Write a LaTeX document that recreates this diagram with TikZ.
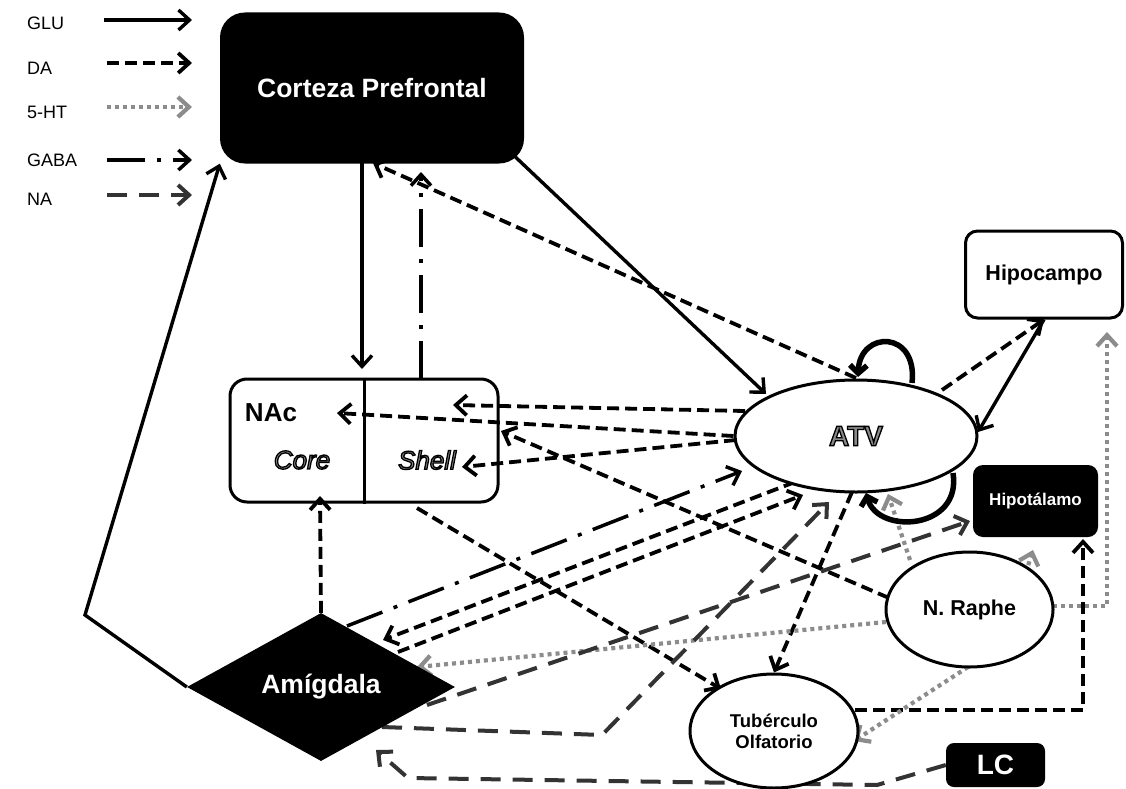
\documentclass[tikz,border=0pt]{standalone}
\usepackage{fontspec}
\setmainfont{Liberation Sans}
\usetikzlibrary{arrows.meta,shapes.geometric,calc}
\pgfdeclarelayer{bg}
\pgfsetlayers{bg,main}
\definecolor{sert}{HTML}{8C8C8C}
\definecolor{nacol}{HTML}{333333}
\definecolor{outlfill}{HTML}{8A8A8A}
\newcommand\outl[1]{\textcolor{outlfill}{\special{pdf:literal direct 2 Tr 0 G 1.3 w}#1\special{pdf:literal direct 0 Tr}}}
\tikzset{
  barb/.tip={Straight Barb[length=11pt,width=20pt]},
  glu/.style={line width=3.4pt,black,-barb},
  da/.style={line width=3.8pt,black,dash pattern=on 12pt off 6pt,-barb},
  ht/.style={line width=4.2pt,sert,dash pattern=on 4pt off 4pt,-barb},
  gaba/.style={line width=3.5pt,black,dash pattern=on 38pt off 12pt on 4pt off 12pt,-barb},
  na/.style={line width=4pt,nacol,dash pattern=on 20pt off 12pt,-barb},
  loopar/.style={line width=5.5pt,black,-{Straight Barb[length=8pt,width=17pt]}},
  legtxt/.style={anchor=west,inner sep=0pt,font=\fontsize{18}{21}\selectfont},
  blackbox/.style={fill=black,text=white,inner sep=0pt,font=\bfseries},
  whiteell/.style={ellipse,draw,line width=3pt,fill=white,inner sep=0pt,font=\bfseries},
}
\begin{document}
\begin{tikzpicture}[x=1pt,y=-1pt]
\useasboundingbox (0,0) rectangle (1126,789);
% ---------- nodes ----------
\node[blackbox,rounded corners=25pt,minimum width=304pt,minimum height=151pt,
  font=\fontsize{26.5}{30}\selectfont\bfseries] (cpf) at (372,88) {Corteza Prefrontal};
\node[draw,line width=3pt,rounded corners=17pt,minimum width=268pt,minimum height=123pt] (nac) at (364,440.5) {};
\node[inner sep=0pt,font=\fontsize{26}{28}\selectfont\bfseries] (nactxt) at (271,413) {NAc};
\node[inner sep=0pt,font=\fontsize{26}{28}\selectfont\itshape] (core) at (302,460) {\outl{Core}};
\node[inner sep=0pt,font=\fontsize{26}{28}\selectfont\itshape] (shell) at (427,460) {\outl{Shell}};
\node[whiteell,minimum width=242pt,minimum height=112pt,font=\fontsize{28}{30}\selectfont\bfseries] (atv) at (856,436) {\outl{ATV}};
\node[draw,line width=3pt,fill=white,rounded corners=12pt,minimum width=157pt,minimum height=87pt,
  font=\fontsize{21.5}{24}\selectfont\bfseries] (hip) at (1044,274.5) {Hipocampo};
\node[blackbox,rounded corners=10pt,minimum width=125pt,minimum height=72pt,
  font=\fontsize{17}{20}\selectfont\bfseries] (hyp) at (1035.5,501) {Hipotálamo};
\node[whiteell,minimum width=167pt,minimum height=115pt,font=\fontsize{21.5}{24}\selectfont\bfseries] (raphe) at (969.5,609.5) {N. Raphe};
\node[whiteell,minimum width=168pt,minimum height=114pt,align=center,font=\fontsize{18.5}{21}\selectfont\bfseries] (tub) at (774,731) {Tubérculo\\Olfatorio};
\node[blackbox,rounded corners=8pt,minimum width=99pt,minimum height=44pt,
  font=\fontsize{28}{30}\selectfont\bfseries] (lc) at (995.5,765) {LC};
\node[diamond,aspect=1.8,fill=black,text=white,inner sep=0pt,minimum width=268pt,minimum height=148pt,
  font=\fontsize{26.5}{30}\selectfont\bfseries] (amy) at (321,687) {Amígdala};
\draw[line width=3pt] (nac.north) -- (nac.south);
% legend
\node[legtxt] (lglu) at (27,23) {GLU};
\node[legtxt] (lda) at (27,68) {DA};
\node[legtxt] (lht) at (27,112) {5-HT};
\node[legtxt] (lgaba) at (27,160) {GABA};
\node[legtxt] (lna) at (27,199) {NA};
% ---------- coordinates ----------
\coordinate (g1a) at (104,20);  \coordinate (g1b) at (192,20);
\coordinate (g2a) at (107,63);  \coordinate (g2b) at (192,63);
\coordinate (g3a) at (107,107); \coordinate (g3b) at (192,107);
\coordinate (g4a) at (107,160); \coordinate (g4b) at (192,160);
\coordinate (g5a) at (107,195); \coordinate (g5b) at (192,195);
\coordinate (bendA) at (85,615);
\coordinate (cpfD) at (362,163); \coordinate (nacT) at (362,369);
\coordinate (nacS) at (421,379); \coordinate (cpfG) at (421,172);
\coordinate (cpfR) at (508,150); \coordinate (atvGL) at (766,394);
\coordinate (atvT) at (856,378); \coordinate (cpfA) at (373,163);
\coordinate (atvL1) at (912,383); \coordinate (atvL2) at (858,377);
\coordinate (atvH) at (942,390);
\coordinate (atvR) at (978,432);
\coordinate (atvU) at (745,411); \coordinate (shellU) at (453,405);
\coordinate (coreA) at (337,413);
\coordinate (atvW2) at (736,440); \coordinate (shellL) at (462,467);
\coordinate (rapheN) at (889,598); \coordinate (nacR) at (501,431);
\coordinate (nacB) at (417,508); \coordinate (tubA) at (721,689);
\coordinate (atvB) at (852,492);
\coordinate (atvA1) at (795,482); \coordinate (amyA1) at (383,640);
\coordinate (amyA2) at (398,652); \coordinate (atvA2) at (803,495);
\coordinate (nacC) at (320,496);
\coordinate (tubR) at (855,710); \coordinate (cornerTH) at (1083,710); \coordinate (hypB) at (1083,539);
\coordinate (amyG) at (347,626); \coordinate (atvG) at (742,471);
\coordinate (rapheW) at (886,622); \coordinate (amyH) at (417,667);
\coordinate (rapheT) at (910,560); \coordinate (atvH2) at (888,494);
\coordinate (rapheNE) at (1021,588); \coordinate (hypH) at (1033,550);
\coordinate (rapheE) at (1053,606); \coordinate (cornerRH) at (1107,606); \coordinate (hipH) at (1107,332);
\coordinate (rapheS) at (968,667); \coordinate (tubH) at (854,741);
\coordinate (c1) at (877,785); \coordinate (c2) at (408,778); \coordinate (amyN) at (376,750);
\coordinate (amyN2) at (382,727); \coordinate (c3) at (602,735); \coordinate (atvN) at (829,502);
\coordinate (amyN3) at (427,705); \coordinate (hypN) at (970,521);
\coordinate (atvBL1) at (953,473); \coordinate (atvBL2) at (866,493);
% ---------- connectors ----------
\begin{pgfonlayer}{bg}
\fill[white] (0,0) rectangle (1126,789);
\draw[glu] (g1a) -- (g1b);
\draw[da] (g2a) -- (g2b);
\draw[ht] (g3a) -- (g3b);
\draw[gaba] (g4a) -- (g4b);
\draw[na] (g5a) -- (g5b);
% GLU
\draw[glu] (amy.west) -- (bendA) -- (cpf.south west);
\draw[glu] (cpfD) -- (nacT);
\draw[glu] (cpfR) -- (atvGL);
\draw[glu] (hip.south) -- (atvR);
% DA
\draw[da] (atvT) -- (cpfA);
\draw[da] (atvH) -- (hip.south);
\draw[da] (atvU) -- (shellU);
\draw[da] (atv.west) -- (coreA);
\draw[da] (atvW2) -- (shellL);
\draw[da] (rapheN) -- (nacR);
\draw[da] (nacB) -- (tubA);
\draw[da] (atvB) -- (tub.north);
\draw[da] (atvA1) -- (amyA1);
\draw[da] (amyA2) -- (atvA2);
\draw[da] (amy.north) -- (nacC);
\draw[da] (tubR) -- (cornerTH) -- (hypB);
% GABA
\draw[gaba] (nacS) -- (cpfG);
\draw[gaba] (amyG) -- (atvG);
% 5-HT
\draw[ht] (rapheW) -- (amyH);
\draw[ht] (rapheT) -- (atvH2);
\draw[ht] (rapheNE) -- (hypH);
\draw[ht] (rapheE) -- (cornerRH) -- (hipH);
\draw[ht] (rapheS) -- (tubH);
% NA
\draw[na] (lc.west) -- (c1) -- (c2) -- (amyN);
\draw[na] (amyN2) -- (c3) -- (atvN);
\draw[na] (amyN3) -- (hypN);
\end{pgfonlayer}
% self loops on ATV
\draw[loopar] (atvL1) .. controls (918,330) and (860,330) .. (atvL2);
\draw[loopar] (atvBL1) .. controls (962,530) and (878,535) .. (atvBL2);
\end{tikzpicture}
\end{document}
